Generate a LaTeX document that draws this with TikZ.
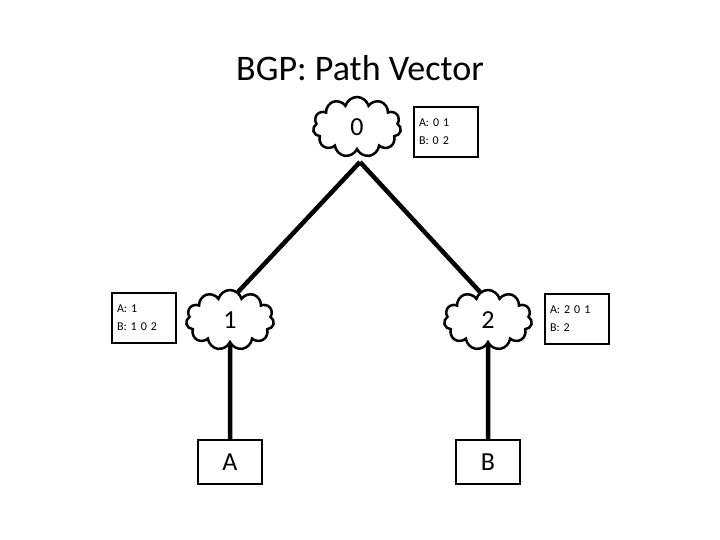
\documentclass[tikz,border=0pt]{standalone}
\usepackage{fontspec}
\setmainfont{Carlito}
\usetikzlibrary{shapes.symbols}
\begin{document}
\begin{tikzpicture}[x=1pt,y=-1pt,
 cl/.style={cloud,cloud puffs=11,draw,line width=2.5pt,minimum width=88pt,minimum height=60pt,font=\fontsize{26}{30}\selectfont,aspect=1.5},
 info/.style={draw,line width=2pt,align=left,font=\fontsize{12}{18}\selectfont,minimum width=64pt,minimum height=50pt,inner sep=4pt,text width=54pt},
 host/.style={draw,line width=2pt,minimum width=64pt,minimum height=44pt,font=\fontsize{26}{30}\selectfont},
 link/.style={line width=4.5pt}]
\useasboundingbox (0,0) rectangle (720,540);
\node (t) at (360,68) {\fontsize{36}{40}\selectfont BGP: Path Vector};
\node[cl] (n0) at (357,127) {0};
\node[cl] (n1) at (230,320) {1};
\node[cl] (n2) at (488,320) {2};
\node[host] (a) at (230,462) {A};
\node[host] (b) at (488,462) {B};
\node[info] (i0) at (446,132) {A: 0 1\\B: 0 2};
\node[info] (i1) at (144,318) {A: 1\\B: 1 0 2};
\node[info] (i2) at (577,319) {A: 2 0 1\\B: 2};
\coordinate (p0) at (360,162);
\coordinate (p1) at (238,292);
\coordinate (p2) at (480,292);
\draw[link] (p0) -- (p1);
\draw[link] (p0) -- (p2);
\draw[link] (n1.south) -- (a.north);
\draw[link] (n2.south) -- (b.north);
\end{tikzpicture}
\end{document}
